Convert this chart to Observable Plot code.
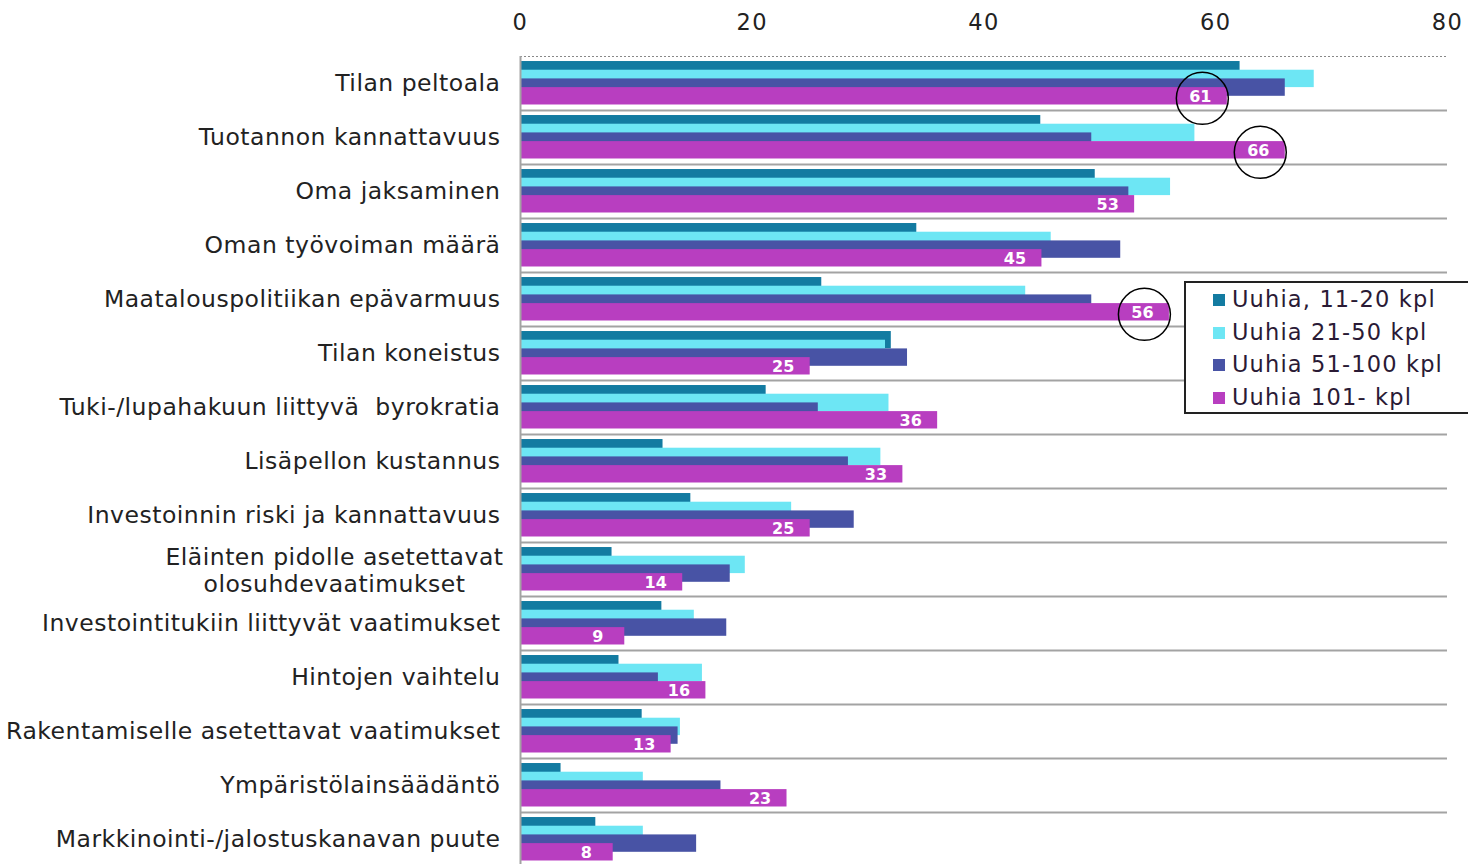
<!DOCTYPE html>
<html>
<head>
<meta charset="utf-8">
<script src="https://cdn.jsdelivr.net/npm/d3@7"></script>
<script src="https://cdn.jsdelivr.net/npm/@observablehq/plot@0.6"></script>
<style>
  html, body { margin: 0; padding: 0; background: #fff; overflow: hidden; }
  #wrap { position: relative; width: 1468px; height: 864px; overflow: hidden; }
  #legend {
    position: absolute; left: 1184px; top: 281px; width: 300px; height: 133px;
    background: #fff; border: 2px solid #222; box-sizing: border-box;
    font-family: "DejaVu Sans", sans-serif; font-size: 22.5px; letter-spacing: 1.15px; color: #2a1a35;
    padding-top: 0px;
  }
  #legend .item { position: relative; height: 32.5px; line-height: 32.5px; padding-left: 46px; white-space: nowrap; }
  #legend .sw { position: absolute; left: 27px; top: 11px; width: 12px; height: 12px; }
</style>
</head>
<body>
<div id="wrap"><div id="chart"></div><div id="legend"></div></div>
<script>
const categories = [
  "Tilan peltoala",
  "Tuotannon kannattavuus",
  "Oma jaksaminen",
  "Oman työvoiman määrä",
  "Maatalouspolitiikan epävarmuus",
  "Tilan koneistus",
  "Tuki-/lupahakuun liittyvä  byrokratia",
  "Lisäpellon kustannus",
  "Investoinnin riski ja kannattavuus",
  "Eläinten pidolle asetettavat\nolosuhdevaatimukset",
  "Investointitukiin liittyvät vaatimukset",
  "Hintojen vaihtelu",
  "Rakentamiselle asetettavat vaatimukset",
  "Ympäristölainsäädäntö",
  "Markkinointi-/jalostuskanavan puute"
];
const seriesNames = ["Uuhia, 11-20 kpl", "Uuhia 21-50 kpl", "Uuhia 51-100 kpl", "Uuhia 101- kpl"];
const seriesColors = ["#137ba1", "#6de6f4", "#4853a5", "#b83ec0"];
const uuhia11_20  = [62.1, 44.9, 49.6, 34.2, 26.0, 32.0, 21.2, 12.3, 14.7, 7.9, 12.2, 8.5, 10.5, 3.5, 6.5];
const uuhia21_50  = [68.5, 58.2, 56.1, 45.8, 43.6, 31.5, 31.8, 31.1, 23.4, 19.4, 15.0, 15.7, 13.8, 10.6, 10.6];
const uuhia51_100 = [66.0, 49.3, 52.5, 51.8, 49.3, 33.4, 25.7, 28.3, 28.8, 18.1, 17.8, 11.9, 13.6, 17.3, 15.2];
const uuhia101    = [61, 66, 53, 45, 56, 25, 36, 33, 25, 14, 9, 16, 13, 23, 8];
const circled = ["Tilan peltoala", "Tuotannon kannattavuus", "Maatalouspolitiikan epävarmuus"];
const xTicks = [0, 20, 40, 60, 80];

const seriesValues = [uuhia11_20, uuhia21_50, uuhia51_100, uuhia101];

const W = 1468, H = 866, mt = 56, mb = 0, ml = 520, mr = 21;
const bw = (H - mt - mb) / categories.length;
const barH = bw * 0.322;
const step = barH / 2;
const top0 = bw * 0.093;

const rowsFor = vals => categories.map((c, i) => ({cat: c, v: vals[i]}));
const pinkRows = rowsFor(uuhia101);
const pinkCenterOffset = top0 + 3 * step + barH / 2 - bw / 2;

const barMarks = seriesValues.map((vals, j) => Plot.barX(rowsFor(vals), {
  x1: 0, x2: "v", y: "cat", fill: seriesColors[j],
  insetTop: top0 + j * step,
  insetBottom: bw - (top0 + j * step + barH)
}));

const twoLine = categories.filter(c => c.includes("\n"));
const oneLine = categories.filter(c => !c.includes("\n"));

const chart = Plot.plot({
  width: W, height: H,
  marginTop: mt, marginBottom: mb, marginLeft: ml, marginRight: mr,
  style: {fontFamily: "DejaVu Sans, sans-serif", fontSize: "20px", color: "#222", background: "#fff", overflow: "visible"},
  x: {domain: [0, 80], axis: null},
  y: {domain: categories, padding: 0, axis: null},
  marks: [
    Plot.axisX({anchor: "top", ticks: xTicks, tickSize: 0, tickPadding: 27, fontSize: 22.5, fill: "#222", label: null}),
    Plot.ruleY(categories, {y: d => d, dy: bw / 2, x1: 0, x2: 80, stroke: "#a3a3a3", strokeWidth: 2}),
    Plot.ruleY([categories[0]], {y: d => d, dy: -bw / 2, x1: 0, x2: 80, stroke: "#888", strokeWidth: 1.2, strokeDasharray: "2,2"}),
    ...barMarks,
    Plot.text(pinkRows, {x: "v", y: "cat", text: d => String(d.v), dx: -27, dy: pinkCenterOffset + 1,
      fill: "#fff", fontWeight: "bold", fontSize: 16}),
    Plot.dot(pinkRows.filter(d => circled.includes(d.cat)), {x: "v", y: "cat", r: 26, dx: -25, dy: pinkCenterOffset + 2,
      stroke: "#000", strokeWidth: 1.5, fill: "none"}),
    Plot.ruleX([0], {stroke: "#a3a3a3", strokeWidth: 2}),
    Plot.text(oneLine, {y: d => d, text: d => d, frameAnchor: "left", textAnchor: "end", dx: -20, fontSize: 23.5, fill: "#222"}),
    Plot.text(twoLine, {y: d => d, text: d => d, frameAnchor: "left", textAnchor: "middle", dx: -186, fontSize: 23.5, fill: "#222", lineHeight: 1.15})
  ]
});
document.getElementById("chart").appendChild(chart);

// letter spacing to mimic the reference's wide text rendering
const catLines = new Set(categories.flatMap(c => c.split("\n")));
const tickStrs = new Set(xTicks.map(String));
d3.select(chart).selectAll("text").each(function() {
  const el = d3.select(this);
  const hasTspans = this.querySelector("tspan");
  const txt = this.textContent;
  if (catLines.has(txt) || (hasTspans && [...this.querySelectorAll("tspan")].some(t => catLines.has(t.textContent)))) {
    el.style("letter-spacing", "0.5px");
  } else if (tickStrs.has(txt) && !this.closest("g").getAttribute("fill")?.includes("fff")) {
    el.style("letter-spacing", "1.5px");
  }
});

const legend = document.getElementById("legend");
seriesNames.forEach((name, j) => {
  const item = document.createElement("div");
  item.className = "item";
  const sw = document.createElement("span");
  sw.className = "sw";
  sw.style.background = seriesColors[j];
  item.appendChild(sw);
  item.appendChild(document.createTextNode(name));
  legend.appendChild(item);
});
</script>
</body>
</html>
